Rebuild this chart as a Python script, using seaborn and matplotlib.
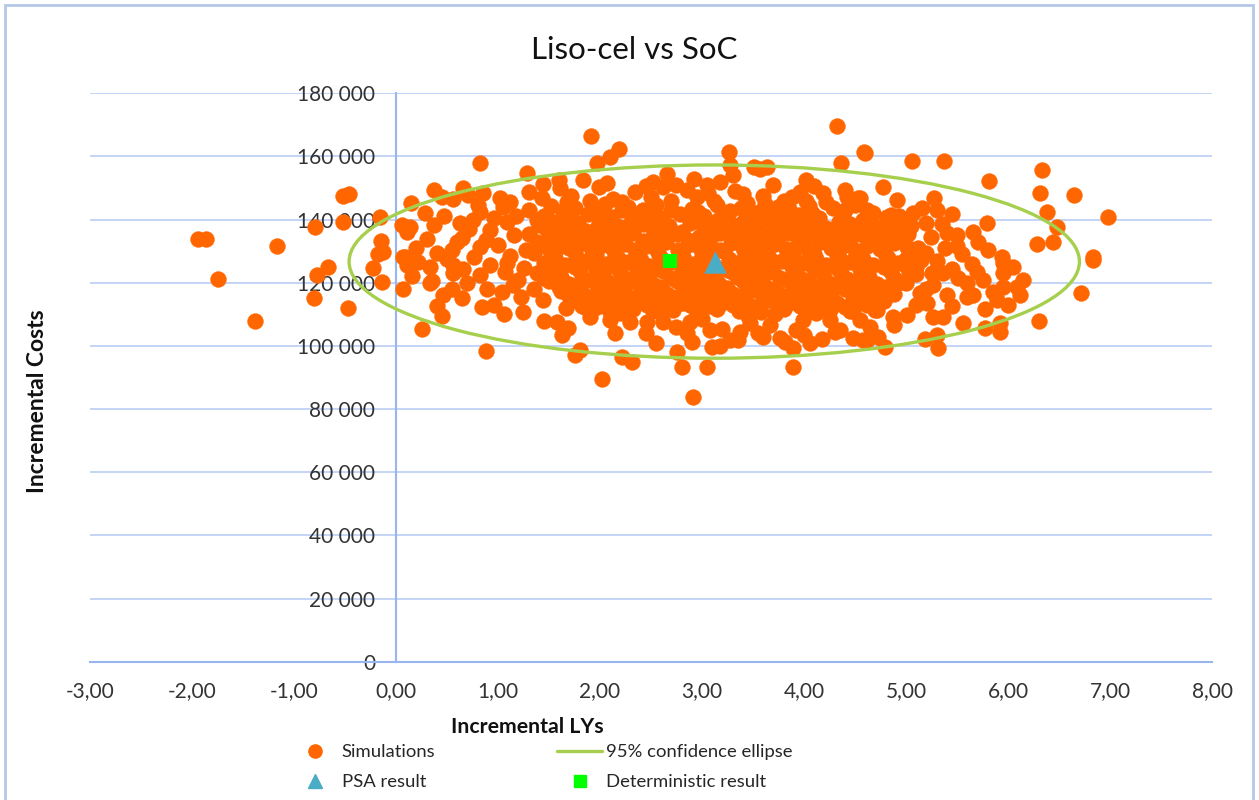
import matplotlib
matplotlib.use('Agg')
import matplotlib.pyplot as plt
from matplotlib.lines import Line2D
from matplotlib.patches import Ellipse, Rectangle
import seaborn as sns
import numpy as np
import pandas as pd

# simulation results (incremental LYs, incremental costs in thousands)
sims_far_left = [
    (-1.94, 133.8), (-1.86, 133.9), (-1.75, 121.1), (-1.38, 107.9), (-1.17, 131.6),
    (-0.80, 115.1), (-0.79, 137.6), (-0.77, 122.4), (-0.67, 124.9), (-0.52, 139.2),
    (-0.52, 147.4), (-0.46, 148.0), (-0.47, 111.9), (-0.23, 124.6), (-0.16, 140.8),
    (-0.15, 133.2), (-0.13, 129.7), (-0.18, 129.1), (-0.14, 120.2),
]
sims_left = [
    (0.06, 138.2), (0.07, 128.2), (0.11, 136.0), (0.07, 117.9), (0.11, 125.6), (0.25, 105.2),
    (0.33, 119.9), (0.33, 125.0), (0.45, 109.4), (0.46, 116.1), (0.56, 123.0), (0.65, 115.1),
    (0.82, 122.4), (0.84, 112.3), (0.88, 98.4), (0.89, 117.9), (1.06, 110.0), (1.07, 123.4),
    (1.15, 119.2), (1.23, 115.5), (1.24, 110.8), (1.25, 124.6), (0.15, 145.2), (0.37, 149.3),
    (0.45, 147.1), (0.56, 146.5), (0.66, 149.9), (0.71, 147.7), (0.82, 157.9), (0.85, 148.4),
    (1.02, 146.8), (1.28, 154.7), (1.30, 148.7), (0.82, 142.4), (0.75, 139.8), (0.63, 138.9),
    (0.37, 138.2), (0.14, 137.6), (1.05, 144.0), (1.09, 139.2), (1.38, 139.8), (0.65, 134.2),
    (1.38, 132.9), (0.40, 129.4), (0.09, 128.1), (0.56, 125.6), (1.09, 126.2), (0.82, 131.3),
    (0.92, 136.6), (0.20, 131.0), (0.35, 120.5), (0.50, 127.5), (0.60, 133.0), (0.70, 120.0),
    (0.76, 128.0), (0.92, 125.5), (1.00, 132.0), (1.12, 128.5), (1.16, 135.0), (1.20, 121.0),
    (1.30, 143.0), (0.47, 141.0), (0.55, 118.0), (0.96, 140.5), (1.04, 117.0), (0.30, 134.0),
    (0.80, 144.5), (1.27, 130.5), (0.66, 124.5), (0.16, 122.0), (0.40, 112.5), (0.96, 113.0),
    (1.35, 118.0), (1.45, 108.0), (1.12, 145.5), (0.22, 126.5), (0.28, 142.0), (0.55, 130.5),
    (0.88, 133.5), (1.18, 141.0), (0.72, 137.0),
]
sims_low = [
    (1.44, 114.5), (1.58, 107.6), (1.63, 103.4), (1.69, 105.6), (1.67, 111.9), (1.80, 98.7),
    (1.75, 97.1), (1.85, 112.3), (1.97, 112.3), (2.02, 89.5), (2.10, 108.2), (2.15, 104.0),
    (2.22, 96.5), (2.31, 95.0), (2.29, 107.6), (2.91, 83.8), (2.80, 93.3), (3.05, 93.3),
    (2.75, 98.1), (2.90, 101.2), (3.10, 99.6), (3.18, 100.0), (3.89, 93.3), (3.89, 99.3),
    (3.81, 101.2), (4.06, 100.8), (4.18, 102.1), (4.35, 105.0), (4.48, 102.5), (4.58, 101.9),
    (2.74, 106.0), (3.08, 105.0), (3.27, 101.9), (3.37, 104.4), (3.60, 102.8), (3.76, 102.5),
    (2.46, 107.6), (2.62, 107.6), (2.88, 107.6), (3.47, 107.2), (3.67, 106.6), (3.99, 108.2),
    (4.25, 108.2), (4.55, 108.2), (4.62, 101.9), (4.79, 99.6), (4.73, 102.8), (1.90, 109.0),
    (2.20, 110.5), (2.45, 104.0), (2.60, 110.5), (2.85, 104.0), (3.00, 108.5), (3.20, 105.5),
    (3.45, 109.5), (3.55, 104.0), (3.72, 110.0), (3.92, 105.0), (4.12, 110.5), (4.30, 104.5),
    (4.45, 111.0), (4.65, 106.0), (4.88, 106.5), (3.35, 102.0), (2.55, 101.0), (4.00, 103.5),
]
sims_high = [
    (1.91, 166.4), (2.19, 162.3), (2.10, 159.8), (1.97, 157.9), (1.44, 151.2), (1.43, 146.8),
    (1.61, 149.9), (1.83, 152.5), (1.99, 150.3), (2.07, 151.5), (2.13, 146.5), (2.34, 148.7),
    (1.68, 145.5), (4.32, 169.6), (3.26, 161.4), (4.59, 161.4), (4.36, 157.9), (3.51, 156.7),
    (3.64, 156.7), (3.57, 156.0), (3.27, 157.3), (3.30, 154.1), (3.18, 151.9), (2.66, 154.4),
    (2.62, 150.3), (2.74, 150.9), (2.85, 149.3), (3.05, 150.9), (3.06, 148.4), (3.96, 148.7),
    (4.19, 148.4), (4.42, 147.1), (4.53, 146.8), (3.88, 147.1), (3.44, 145.2), (3.74, 144.0),
    (2.42, 143.0), (2.50, 147.0), (2.70, 146.0), (2.95, 147.0), (3.12, 146.0), (3.40, 148.0),
    (3.60, 147.5), (3.80, 146.0), (4.02, 146.0), (4.22, 145.5), (4.40, 149.5), (1.72, 147.5),
    (1.90, 146.0), (2.22, 145.5), (2.52, 152.0), (2.92, 153.0), (3.70, 151.0), (4.10, 150.5),
    (4.02, 152.5), (3.32, 149.0), (1.60, 152.5), (2.45, 150.5),
]
sims_right = [
    (4.87, 109.1), (5.01, 109.7), (4.72, 111.3), (5.21, 113.5), (5.14, 116.7), (5.26, 119.2),
    (5.36, 123.0), (5.19, 102.1), (5.31, 99.3), (5.30, 103.4), (5.56, 107.2), (5.77, 105.6),
    (5.92, 104.4), (5.92, 107.2), (6.30, 107.8), (6.72, 116.7), (6.83, 127.2), (5.77, 111.6),
    (6.00, 112.9), (6.09, 118.6), (5.95, 118.6), (5.89, 114.5), (5.95, 123.0), (5.95, 126.2),
    (5.60, 115.5), (5.66, 116.1), (5.36, 109.1), (5.26, 109.1), (5.51, 121.5), (5.60, 119.9),
    (4.60, 161.1), (5.06, 158.5), (5.37, 158.5), (6.33, 155.7), (5.81, 152.2), (4.77, 150.3),
    (4.91, 146.3), (5.27, 146.8), (6.31, 148.4), (6.65, 147.7), (6.38, 142.4), (6.98, 140.8),
    (5.79, 138.9), (6.48, 137.6), (6.28, 132.3), (6.44, 132.9), (6.83, 128.1), (5.66, 136.0),
    (5.71, 132.9), (5.80, 130.4), (5.94, 128.1), (5.40, 135.7), (5.50, 135.1), (5.45, 141.8),
    (5.30, 143.0), (5.16, 143.6), (5.07, 142.1), (4.93, 141.1), (4.81, 140.8), (4.62, 143.0),
    (4.55, 146.8), (4.79, 136.6), (4.97, 134.5), (5.24, 134.5), (5.38, 131.0), (5.20, 129.4),
    (5.01, 131.3), (4.65, 133.5), (5.00, 120.0), (5.10, 125.0), (5.20, 118.0), (5.30, 127.0),
    (5.45, 124.5), (5.55, 129.0), (5.65, 126.0), (5.75, 121.0), (5.85, 117.0), (5.05, 138.0),
    (5.20, 139.0), (5.35, 138.5), (5.50, 131.5), (5.10, 113.0), (5.40, 116.0), (5.00, 127.5),
    (5.25, 123.0), (5.45, 112.5), (5.70, 123.5), (6.12, 116.0), (6.15, 121.0), (6.05, 125.0),
]
sims_core = [
    (1.52, 144.3), (1.75, 143.6), (2.05, 144.8), (2.27, 143.9), (2.55, 144.5), (2.90, 143.4),
    (3.15, 144.6), (3.38, 143.8), (3.62, 144.9), (3.85, 143.5), (4.05, 144.2), (4.28, 143.7),
    (4.50, 144.6),
    (1.45, 141.2), (1.63, 140.6), (1.88, 141.7), (2.12, 140.9), (2.36, 141.5), (2.60, 140.4),
    (2.78, 141.8), (3.02, 141.1), (3.22, 140.7), (3.48, 141.6), (3.70, 140.8), (3.95, 141.4),
    (4.15, 140.5), (4.38, 141.9), (4.62, 140.9), (4.85, 141.3),
    (1.40, 138.4), (1.58, 137.7), (1.78, 138.8), (1.98, 138.1), (2.20, 137.5), (2.43, 138.6),
    (2.68, 138.0), (2.88, 138.9), (3.10, 137.6), (3.30, 138.3), (3.55, 137.9), (3.78, 138.7),
    (4.00, 138.2), (4.22, 137.4), (4.45, 138.5), (4.70, 138.0), (4.95, 138.8),
    (1.30, 135.3), (1.52, 134.7), (1.70, 135.8), (1.92, 135.1), (2.10, 134.5), (2.32, 135.6),
    (2.52, 134.9), (2.75, 135.4), (2.97, 134.6), (3.18, 135.9), (3.40, 135.0), (3.62, 134.4),
    (3.85, 135.7), (4.08, 135.2), (4.30, 134.8), (4.55, 135.5), (4.78, 134.6), (5.02, 135.3),
    (1.42, 132.2), (1.62, 131.6), (1.83, 132.7), (2.02, 131.9), (2.24, 132.4), (2.45, 131.5),
    (2.65, 132.8), (2.86, 132.0), (3.07, 131.4), (3.28, 132.6), (3.50, 131.8), (3.72, 132.3),
    (3.93, 131.7), (4.16, 132.9), (4.40, 132.1), (4.62, 131.5), (4.88, 132.5),
    (1.35, 129.4), (1.55, 128.7), (1.75, 129.8), (1.96, 129.1), (2.15, 128.5), (2.38, 129.6),
    (2.58, 128.9), (2.80, 129.3), (3.00, 128.6), (3.22, 129.9), (3.42, 129.0), (3.65, 128.4),
    (3.87, 129.7), (4.10, 129.2), (4.32, 128.8), (4.55, 129.5), (4.80, 128.6), (5.05, 129.3),
    (1.45, 126.3), (1.66, 125.6), (1.86, 126.8), (2.06, 125.9), (2.27, 126.5), (2.48, 125.4),
    (2.70, 126.7), (2.92, 126.0), (3.12, 125.5), (3.35, 126.4), (3.57, 125.8), (3.78, 126.9),
    (4.00, 126.1), (4.22, 125.5), (4.45, 126.6), (4.68, 125.7), (4.92, 126.4),
    (1.38, 123.2), (1.58, 122.6), (1.80, 123.7), (2.00, 122.9), (2.20, 123.5), (2.42, 122.4),
    (2.62, 123.8), (2.85, 123.0), (3.05, 122.5), (3.27, 123.6), (3.48, 122.8), (3.70, 123.3),
    (3.92, 122.7), (4.14, 123.9), (4.36, 123.1), (4.60, 122.5), (4.85, 123.4), (5.10, 122.8),
    (1.50, 120.4), (1.70, 119.6), (1.90, 120.8), (2.10, 119.9), (2.32, 120.5), (2.53, 119.4),
    (2.75, 120.7), (2.96, 120.0), (3.17, 119.5), (3.40, 120.6), (3.60, 119.8), (3.83, 120.9),
    (4.05, 120.2), (4.27, 119.5), (4.50, 120.6), (4.72, 119.7), (4.96, 120.3),
    (1.62, 117.3), (1.82, 116.6), (2.03, 117.7), (2.24, 116.9), (2.45, 117.5), (2.66, 116.4),
    (2.88, 117.8), (3.08, 117.0), (3.30, 116.5), (3.52, 117.6), (3.74, 116.8), (3.96, 117.3),
    (4.18, 116.7), (4.40, 117.9), (4.63, 117.1), (4.88, 116.5),
    (1.75, 114.4), (1.95, 113.7), (2.16, 114.8), (2.37, 113.9), (2.58, 114.5), (2.80, 113.5),
    (3.00, 114.7), (3.22, 114.0), (3.44, 113.6), (3.66, 114.6), (3.88, 113.8), (4.10, 114.3),
    (4.32, 113.7), (4.55, 114.9), (4.78, 114.1),
    (1.90, 111.3), (2.10, 110.7), (2.32, 111.8), (2.52, 110.9), (2.72, 111.5), (2.95, 110.5),
    (3.15, 111.7), (3.36, 111.0), (3.58, 110.6), (3.80, 111.6), (4.02, 110.8), (4.25, 111.4),
    (4.48, 110.9), (4.70, 111.5),
]
# densest part of the cloud, in between the rows above
sims_core_mid = [
    (1.64, 142.6), (1.98, 142.2), (2.22, 142.9), (2.46, 142.1), (2.70, 143.0), (2.96, 142.4),
    (3.27, 142.7), (3.56, 142.3), (3.80, 142.8), (4.08, 142.0), (4.40, 142.9), (4.68, 142.2),
    (1.50, 139.8), (1.72, 139.3), (2.08, 139.9), (2.30, 139.2), (2.55, 139.7), (2.92, 139.4),
    (3.16, 139.9), (3.40, 139.3), (3.66, 139.8), (3.88, 139.1), (4.10, 139.6), (4.34, 139.2),
    (4.58, 139.9), (4.82, 139.4),
    (1.48, 136.8), (1.86, 136.3), (2.05, 137.0), (2.32, 136.5), (2.58, 136.9), (2.80, 136.2),
    (3.02, 136.8), (3.24, 136.4), (3.48, 137.0), (3.70, 136.3), (3.92, 136.9), (4.14, 136.5),
    (4.38, 136.8), (4.64, 136.2), (4.88, 136.9),
    (1.60, 133.6), (1.78, 134.0), (2.00, 133.4), (2.20, 133.9), (2.42, 133.2), (2.64, 133.8),
    (2.86, 133.5), (3.08, 134.0), (3.30, 133.3), (3.52, 133.9), (3.74, 133.4), (3.98, 133.8),
    (4.20, 133.3), (4.45, 133.9), (4.70, 133.2), (4.95, 133.7),
    (1.50, 130.6), (1.70, 131.0), (1.92, 130.4), (2.12, 130.9), (2.34, 130.3), (2.55, 130.8),
    (2.76, 130.5), (2.98, 131.0), (3.18, 130.4), (3.40, 130.9), (3.60, 130.2), (3.82, 130.7),
    (4.04, 130.4), (4.26, 130.9), (4.50, 130.3), (4.74, 130.8), (5.12, 131.0),
    (1.56, 127.7), (1.76, 128.1), (1.96, 127.5), (2.18, 127.9), (2.40, 127.3), (2.60, 127.8),
    (2.82, 127.4), (3.04, 128.0), (3.26, 127.5), (3.48, 127.9), (3.68, 127.2), (3.90, 127.8),
    (4.12, 127.4), (4.34, 128.0), (4.58, 127.5), (4.82, 127.9), (5.15, 127.2),
    (1.55, 124.7), (1.75, 125.0), (1.96, 124.4), (2.16, 124.9), (2.36, 124.3), (2.58, 124.8),
    (2.80, 124.5), (3.00, 125.0), (3.22, 124.2), (3.45, 124.7), (3.66, 124.4), (3.88, 124.9),
    (4.10, 124.3), (4.32, 124.8), (4.55, 124.4), (4.78, 124.9), (5.02, 124.5),
    (1.45, 121.5), (1.62, 121.9), (1.82, 121.3), (2.04, 121.8), (2.26, 121.2), (2.48, 121.7),
    (2.70, 121.4), (2.90, 121.9), (3.12, 121.3), (3.34, 121.8), (3.55, 121.1), (3.76, 121.6),
    (3.98, 121.3), (4.20, 121.9), (4.42, 121.2), (4.64, 121.7), (4.88, 121.4),
    (1.60, 118.6), (1.78, 118.9), (1.98, 118.3), (2.18, 118.8), (2.40, 118.2), (2.60, 118.7),
    (2.82, 118.4), (3.02, 118.9), (3.24, 118.3), (3.46, 118.8), (3.68, 118.1), (3.90, 118.6),
    (4.12, 118.4), (4.34, 118.9), (4.56, 118.2), (4.80, 118.7),
    (1.70, 115.9), (1.90, 115.4), (2.10, 116.0), (2.32, 115.3), (2.52, 115.8), (2.74, 115.5),
    (2.95, 116.0), (3.16, 115.2), (3.38, 115.7), (3.60, 115.4), (3.82, 115.9), (4.04, 115.3),
    (4.26, 115.8), (4.48, 115.4), (4.72, 115.9),
    (1.82, 112.7), (2.02, 113.1), (2.24, 112.5), (2.46, 113.0), (2.66, 112.4), (2.88, 112.9),
    (3.08, 112.6), (3.30, 113.1), (3.52, 112.3), (3.74, 112.8), (3.96, 112.5), (4.18, 113.0),
    (4.40, 112.4), (4.62, 112.9),
]

psa_ly, psa_cost = 3.13, 126600
det_ly, det_cost = 2.69, 126900

# 95% confidence ellipse
ell_center = (3.12, 126700)
ell_half_ly = 3.58
ell_half_cost = 30600

x_ticks = [-3, -2, -1, 0, 1, 2, 3, 4, 5, 6, 7, 8]
y_ticks = [0, 20000, 40000, 60000, 80000, 100000, 120000, 140000, 160000, 180000]

ORANGE = '#ff6600'
GREEN = '#a6cf4e'
BLUE = '#4bacc6'
GRID = '#c3d4f5'
AXIS = '#98b5ee'

sns.set_theme(style='white')
plt.rcParams['font.family'] = ['Lato', 'DejaVu Sans']

pts = sims_far_left + sims_left + sims_low + sims_high + sims_right + sims_core + sims_core_mid
df = pd.DataFrame(pts, columns=['ly', 'cost_k'])
df['cost'] = df['cost_k'] * 1000

fig = plt.figure(figsize=(12.59, 8), dpi=100)
ax = fig.add_axes([0.0715, 0.1729, 0.8912, 0.7105])

sns.scatterplot(data=df, x='ly', y='cost', s=130, color=ORANGE,
                edgecolor=ORANGE, linewidth=0.3, legend=False, ax=ax, zorder=3)
ax.add_patch(Ellipse(ell_center, 2 * ell_half_ly, 2 * ell_half_cost, fill=False,
                     edgecolor=GREEN, lw=2.4, zorder=4))
sns.scatterplot(x=[det_ly], y=[det_cost], marker='s', s=110, color='#00ff00',
                linewidth=0, legend=False, ax=ax, zorder=5)
sns.scatterplot(x=[psa_ly], y=[psa_cost], marker='^', s=260, color=BLUE,
                linewidth=0, legend=False, ax=ax, zorder=6)

ax.set_xlim(-3, 8)
ax.set_ylim(0, 180000)
ax.set_xticks(x_ticks)
ax.set_xticklabels([f'{v:.2f}'.replace('.', ',') for v in x_ticks])
ax.set_yticks(y_ticks)
ax.set_yticklabels([f'{v:,}'.replace(',', ' ') for v in y_ticks])

for s in ['top', 'right']:
    ax.spines[s].set_visible(False)
ax.spines['left'].set_position(('data', 0))
ax.spines['left'].set_color(AXIS)
ax.spines['left'].set_linewidth(1.5)
ax.spines['bottom'].set_color(AXIS)
ax.spines['bottom'].set_linewidth(1.5)
ax.set_axisbelow(True)
ax.yaxis.grid(True, color=GRID, lw=1.4)
ax.xaxis.grid(False)
ax.tick_params(axis='y', length=0, labelsize=15, labelcolor='#333333', pad=15)
ax.tick_params(axis='x', length=0, labelsize=15, labelcolor='#333333', pad=14)

ax.set_xlabel('Incremental LYs', fontsize=15.3, fontweight='bold', color='#111111')
ax.xaxis.label.set_va('center')
ax.xaxis.set_label_coords(0.39, -0.115)
ax.set_ylabel('Incremental Costs', fontsize=16.5, fontweight='bold', color='#111111')
ax.yaxis.label.set_va('center')
ax.yaxis.set_label_coords(-0.047, 0.459)

fig.text(0.504, 1 - 50 / 800, 'Liso-cel vs SoC', ha='center', va='center',
         fontsize=22.5, color='#111111')

handles = [
    Line2D([], [], ls='none', marker='o', markersize=9.5, markerfacecolor=ORANGE, markeredgecolor=ORANGE),
    Line2D([], [], ls='none', marker='^', markersize=9.5, markerfacecolor=BLUE, markeredgecolor=BLUE),
    Line2D([], [], color=GREEN, lw=2.4),
    Line2D([], [], ls='none', marker='s', markersize=9, markerfacecolor='#00ff00', markeredgecolor='#00ff00'),
]
labels = ['Simulations', 'PSA result', '95% confidence ellipse', 'Deterministic result']
fig.legend(handles, labels, ncol=2, loc='upper left',
           bbox_to_anchor=(293 / 1259, 1 - 744 / 800), frameon=False, fontsize=13.3,
           handlelength=2.43, handletextpad=0.2, columnspacing=6.6, labelspacing=0.78,
           borderpad=0, borderaxespad=0)

fig.patches.append(Rectangle((0.004, -0.01), 0.991, 1.004, transform=fig.transFigure,
                             fill=False, edgecolor='#b4c7e7', lw=2))

fig.savefig('out.png', dpi=100)
